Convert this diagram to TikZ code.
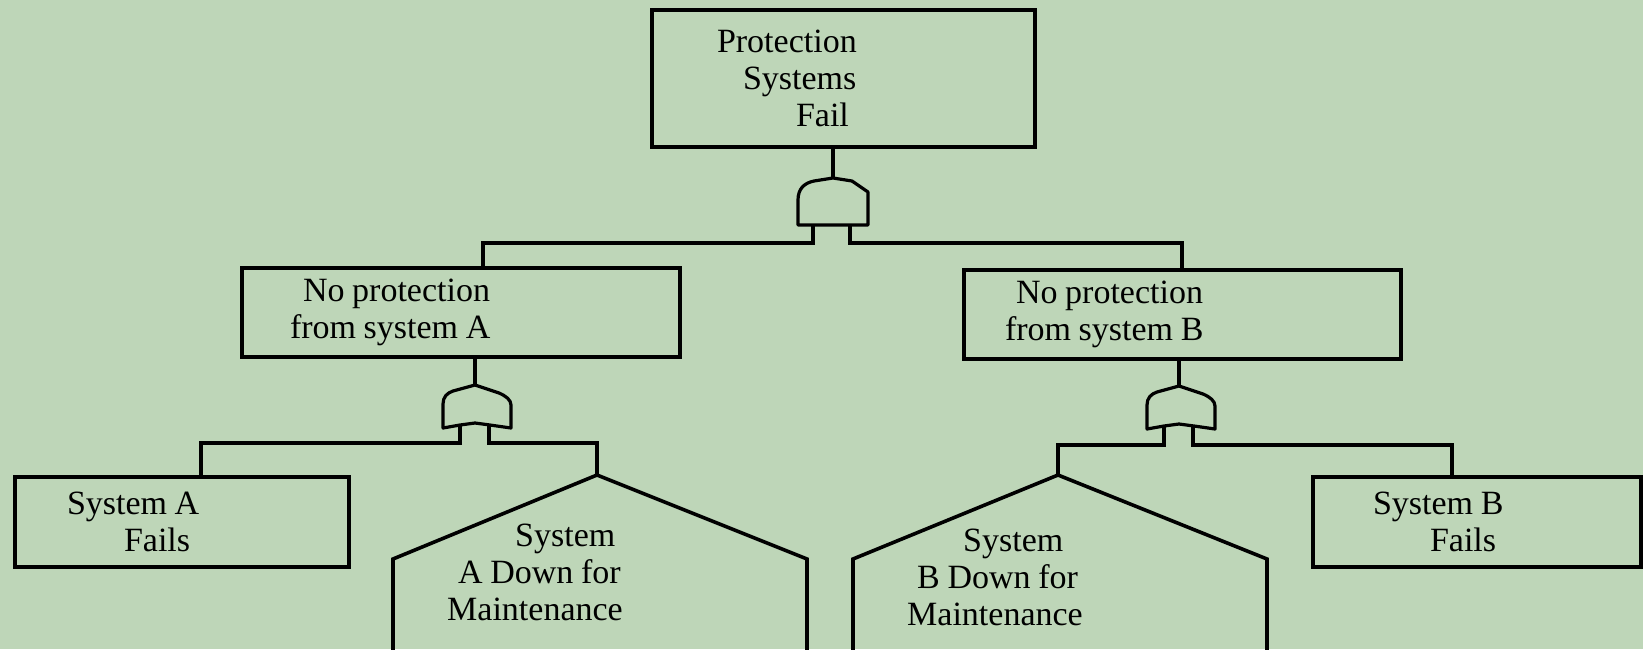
\documentclass[tikz,border=0pt]{standalone}
\usepackage{fontspec}
\setmainfont{Liberation Serif}[WordSpace=0.9]
\usetikzlibrary{arrows,positioning,calc}
\definecolor{bgcol}{RGB}{190,214,184}
\tikzstyle{event} = [draw,line width=3.2pt,inner sep=0pt,align=flush left,font=\fontsize{34}{37}\selectfont]
\tikzstyle{housetext} = [inner sep=0pt,align=flush left,anchor=north west,font=\fontsize{34}{37}\selectfont]
\tikzstyle{wire} = [line width=3.2pt]
\tikzstyle{gate} = [line width=3.2pt,line join=round]
\tikzstyle{house} = [line width=3.6pt,line join=miter]

\begin{document}
\begin{tikzpicture}[x=1pt,y=-1pt]
      \useasboundingbox (0,0) rectangle (1643,649);
      \clip (0,0) rectangle (1643,649);
      \fill[bgcol] (0,0) rectangle (1643,649);

      % events
      \node (top)[event,text width=383pt,minimum height=137pt] at (843.5,78.5)
            {\hspace*{65pt}Protection\\\hspace*{91pt}Systems\\\hspace*{144pt}Fail};
      \node (noA)[event,text width=438pt,minimum height=89pt] at (461,312.5)
            {\hspace*{61pt}No protection\\\hspace*{48pt}from system A};
      \node (noB)[event,text width=437pt,minimum height=89pt] at (1182.5,314.5)
            {\hspace*{52pt}No protection\\\hspace*{41pt}from system B};
      \node (failA)[event,text width=334pt,minimum height=90pt] at (182,522)
            {\hspace*{52pt}System A\\\hspace*{109pt}Fails};
      \node (failB)[event,text width=328pt,minimum height=90pt] at (1477,522)
            {\hspace*{60pt}System B\\\hspace*{117pt}Fails};

      % houses
      \coordinate (apexA) at (597,475);
      \coordinate (apexB) at (1058,475);
      \draw[house] (393,700) -- (393,559) -- (apexA) -- (807,559) -- (807,700);
      \draw[house] (853,700) -- (853,559) -- (apexB) -- (1267,559) -- (1267,700);
      \node (maintA)[housetext] at (447,524)
            {\hspace*{68pt}System\\\hspace*{11pt}A Down for\\Maintenance};
      \node (maintB)[housetext] at (907,529)
            {\hspace*{56pt}System\\\hspace*{10pt}B Down for\\Maintenance};

      % and gate
      \draw[gate] (798,225) -- (798,200) .. controls (798,189) and (804,183) .. (814,181)
            -- (833,178) -- (852,181) -- (868,192) -- (868,225) -- cycle;
      % or gates
      \foreach \gx/\gy in {475/385,1179/386}
      {
        \begin{scope}[shift={(\gx,\gy)}]
          \draw[gate] (-32,43) -- (-32,19) .. controls (-32,12) and (-28,8) .. (-22,6)
                -- (0,0) -- (24,8) .. controls (31,11) and (36,15) .. (36,20) -- (36,43)
                -- (15,40) -- (0,38) -- (-15,40) -- cycle;
        \end{scope}
      }
      \coordinate (andT) at (833,178);
      \coordinate (andL) at (813,225);
      \coordinate (andR) at (850,225);
      \coordinate (orAT) at (475,385);
      \coordinate (orAL) at (460,426);
      \coordinate (orAR) at (489,426);
      \coordinate (orBT) at (1179,386);
      \coordinate (orBL) at (1164,427);
      \coordinate (orBR) at (1193,427);
      \coordinate (jA) at (483,243);
      \coordinate (jB) at (1182,243);
      \coordinate (jfA) at (201,443);
      \coordinate (jmA) at (597,443);
      \coordinate (jmB) at (1058,445);
      \coordinate (jfB) at (1452,445);

      % connectors
      \draw[wire] (top.south -| andT) -- (andT);
      \draw[wire] (andL) |- (jA) -- (jA |- noA.north);
      \draw[wire] (andR) |- (jB) -- (jB |- noB.north);
      \draw[wire] (noA.south -| orAT) -- (orAT);
      \draw[wire] (noB.south -| orBT) -- (orBT);
      \draw[wire] (orAL) |- (jfA) -- (jfA |- failA.north);
      \draw[wire] (orAR) |- (jmA) -- (apexA);
      \draw[wire] (orBL) |- (jmB) -- (apexB);
      \draw[wire] (orBR) |- (jfB) -- (jfB |- failB.north);
\end{tikzpicture}
\end{document}
